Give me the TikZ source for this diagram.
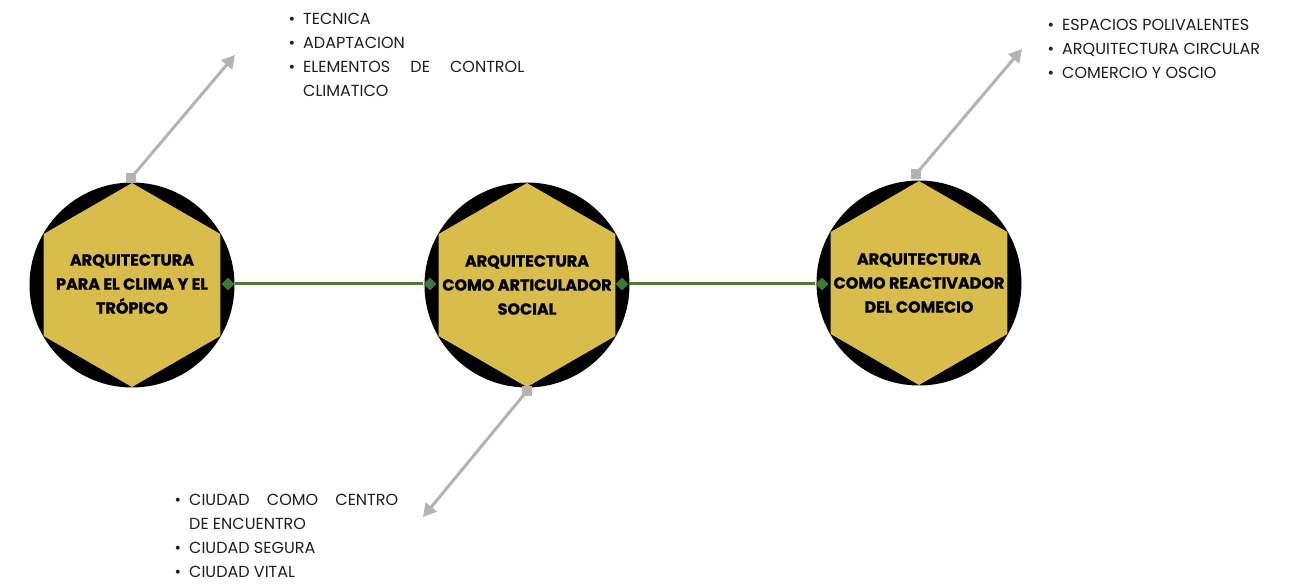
\documentclass[tikz,border=0pt]{standalone}
\usepackage{fontspec}
\setmainfont{Poppins}[BoldFeatures={FakeBold=1.2}]
\usetikzlibrary{shapes.geometric,arrows.meta,calc}
\definecolor{gold}{HTML}{D8BC4C}
\definecolor{lineGreen}{HTML}{4F7B30}
\definecolor{dGreen}{HTML}{3D7A38}
\definecolor{arrGray}{HTML}{B3B3B3}
\definecolor{txt}{HTML}{1E1E1E}
\begin{document}
\begin{tikzpicture}[x=1pt,y=-1pt,
  disc/.style={circle,fill=black,minimum size=205pt,inner sep=0pt},
  lbl/.style={align=center,text=black,inner sep=0pt,font=\bfseries\fontsize{16}{24}\selectfont},
  dmark/.style={diamond,fill=dGreen,minimum width=13pt,minimum height=13pt,inner sep=0pt},
  sqmark/.style={rectangle,fill=arrGray,minimum size=10pt,inner sep=0pt},
  link/.style={draw=lineGreen,line width=3pt},
  pointer/.style={draw=arrGray,line width=3pt,-{Triangle[length=13pt,width=14pt]}},
  item/.style={anchor=base west,inner sep=0pt,text=txt,font=\fontsize{16}{20}\selectfont}
]
\useasboundingbox (0,0) rectangle (1294,585);

% circles
\node[disc] (c1) at (132,285) {};
\node[disc] (c2) at (527,285) {};
\node[disc] (c3) at (919,283) {};

% hexagons
\foreach \c in {c1,c2,c3}{
  \fill[gold] ($(\c)+(30:102)$) -- ($(\c)+(90:102)$) -- ($(\c)+(150:102)$)
    -- ($(\c)+(210:102)$) -- ($(\c)+(270:102)$) -- ($(\c)+(330:102)$) -- cycle;
}

% labels
\node[lbl] (t1) at (132,284) {ARQUITECTURA\\PARA EL CLIMA Y EL\\TRÓPICO};
\node[lbl] (t2) at (527,285) {ARQUITECTURA\\COMO ARTICULADOR\\SOCIAL};
\node[lbl] (t3) at (919,283) {ARQUITECTURA\\COMO REACTIVADOR\\DEL COMECIO};

% green connectors
\node[dmark] (d1r) at (228,284) {};
\node[dmark] (d2l) at (430,284) {};
\node[dmark] (d2r) at (622,284) {};
\node[dmark] (d3l) at (822,284) {};
\draw[link] (d1r) -- (d2l);
\draw[link] (d2r) -- (d3l);

% gray pointers
\node[sqmark] (s1) at (131,178) {};
\node[sqmark] (s2) at (527,391) {};
\node[sqmark] (s3) at (916,174) {};
\coordinate (p1e) at (235,55);
\coordinate (p2e) at (423,517);
\coordinate (p3e) at (1022,49);
\draw[pointer] (s1.center) -- (p1e);
\draw[pointer] (s2.center) -- (p2e);
\draw[pointer] (s3.center) -- (p3e);

% list 1
\node[item] (l1a) at (303,25) {\llap{\textbullet\hspace{8pt}}TECNICA};
\node[item] (l1b) at (303,49) {\llap{\textbullet\hspace{8pt}}ADAPTACION};
\node[item] (l1c) at (303,73) {\llap{\textbullet\hspace{8pt}}\makebox[221pt][s]{ELEMENTOS DE CONTROL}};
\node[item] (l1d) at (303,97) {CLIMATICO};

% list 2
\node[item] (l2a) at (1062,31) {\llap{\textbullet\hspace{8pt}}ESPACIOS POLIVALENTES};
\node[item] (l2b) at (1062,55) {\llap{\textbullet\hspace{8pt}}ARQUITECTURA CIRCULAR};
\node[item] (l2c) at (1062,79) {\llap{\textbullet\hspace{8pt}}COMERCIO Y OSCIO};

% list 3
\node[item] (l3a) at (189,505) {\llap{\textbullet\hspace{8pt}}\makebox[209pt][s]{CIUDAD COMO CENTRO}};
\node[item] (l3b) at (189,529) {DE ENCUENTRO};
\node[item] (l3c) at (189,553) {\llap{\textbullet\hspace{8pt}}CIUDAD SEGURA};
\node[item] (l3d) at (189,577) {\llap{\textbullet\hspace{8pt}}CIUDAD VITAL};
\end{tikzpicture}
\end{document}
